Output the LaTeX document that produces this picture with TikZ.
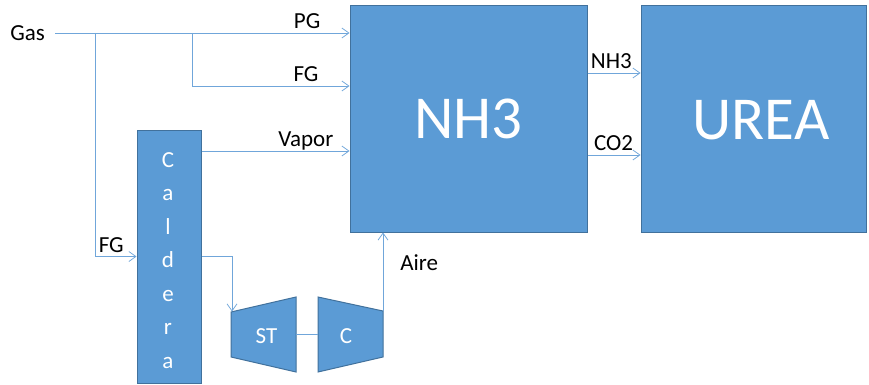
\documentclass[tikz,border=0pt]{standalone}
\usepackage{fontspec}
\setmainfont{Carlito}
\usepackage{xcolor}
\usepackage{tikz}
\usetikzlibrary{
	arrows.meta
}
\definecolor{unitc}{RGB}{91,155,213}
\definecolor{unitb}{RGB}{65,113,156}
\definecolor{flowc}{RGB}{112,166,218}
\tikzset{
	unitshape/.style={draw=unitb,line width=1pt,fill=unitc},
	unit/.style={unitshape,inner sep=0pt,text=white,font=\fontsize{61}{61}\selectfont},
	bigw/.style={text=white,font=\fontsize{61}{61}\selectfont},
	lbl/.style={font=\fontsize{23}{23}\selectfont,inner xsep=2pt,inner ysep=4pt,text depth=0pt},
	wlbl/.style={lbl,text=white},
	flowln/.style={draw=flowc,line width=0.75pt,-{Straight Barb[length=7pt,width=10pt]}}
}

\begin{document}
\begin{tikzpicture}[x=1pt,y=-1pt]
		\useasboundingbox (0,0) rectangle (869,385);
		\node[unit,minimum width=237pt,minimum height=226pt] (NH) at (468.5,119) {NH3};
		\node[unit,minimum width=225pt,minimum height=226pt] (UR) at (753.5,119) {};
		\node[bigw] (URt) at (761,120) {UREA};
		\node[unit,minimum width=64pt,minimum height=253pt] (CA) at (169,256.5) {};
		\foreach \ch [count=\i from 0] in {C,a,l,d,e,r,a}
			\node[wlbl,anchor=base] (CA\i) at (168,167+33.5*\i) {\ch};
		%
		\draw[unitshape] (231,312) -- (296,297) -- (296,372) -- (231,357) -- cycle;
		\node[wlbl,anchor=base] (ST) at (266.5,343) {ST};
		\draw[unitshape] (318,297) -- (383,311) -- (383,357) -- (318,372) -- cycle;
		\node[wlbl,anchor=base] (C) at (346,343) {C};
		%
		\node[lbl,inner xsep=10pt,anchor=east] (Gas) at (55,33) {Gas};
		\coordinate (J1) at (95,33);
		\coordinate (J2) at (192,33);
		\coordinate (Vp) at ([yshift=105.5pt]CA.east);
		\coordinate (STin) at (232,311.5);
		\coordinate (STout) at (296,334.5);
		\coordinate (Cin) at (318,334.5);
		\coordinate (Cout) at (383,311);
		%
		\draw[flowln] (Gas.east) -- node[lbl,pos=0.856,above] {PG} (NH.west |- Gas.east);
		\draw[flowln] (J2) |- node[lbl,pos=0.862,above] {FG} ([yshift=33pt]NH.west);
		\draw[flowln] (J1) |- node[lbl,pos=0.696,above] {FG} (CA.west);
		\draw[flowln] (Vp) -- node[lbl,pos=0.705,above] {Vapor} (NH.west |- Vp);
		\draw[flowln] ([yshift=46pt]NH.east) -- node[lbl,pos=0.45,above] {NH3} ([yshift=46pt]UR.west);
		\draw[flowln] ([yshift=-36pt]NH.east) -- node[lbl,pos=0.49,above] {CO2} ([yshift=-36pt]UR.west);
		\draw[flowln] (CA.east) -| (STin);
		\draw[flowln,-] (STout) -- (Cin);
		\draw[flowln] (Cout) -- node[lbl,pos=0.62,right,xshift=15pt] {Aire} (NH.south -| Cout);
	\end{tikzpicture}
\end{document}
